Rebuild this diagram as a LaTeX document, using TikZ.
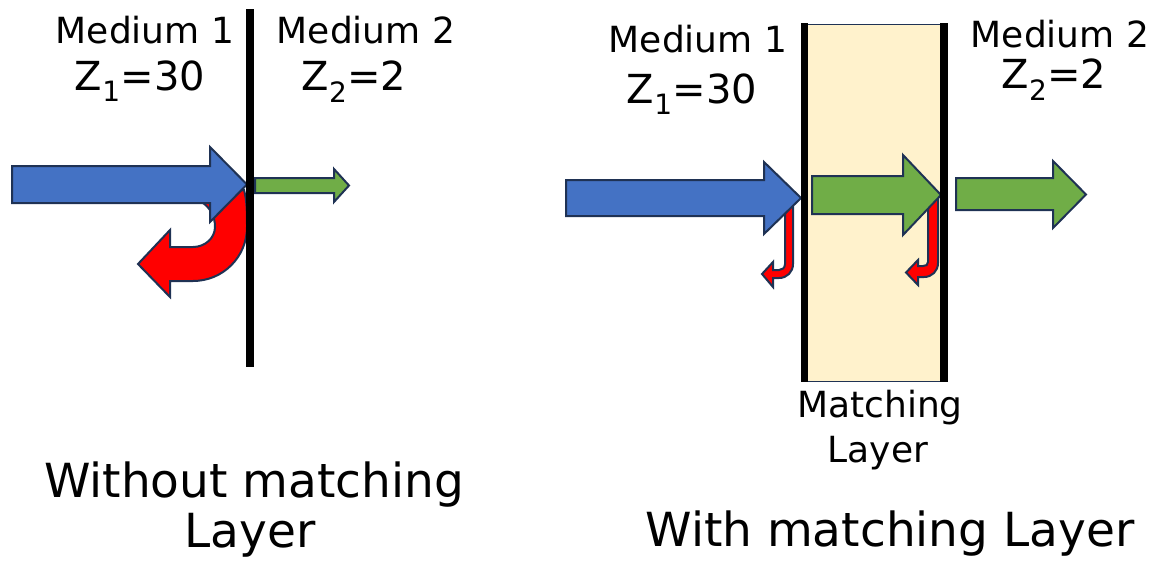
\documentclass[tikz,border=0pt]{standalone}
\usepackage{fontspec}
\setmainfont{DejaVu Sans}
\definecolor{navy}{HTML}{1F3254}
\definecolor{accblue}{HTML}{4472C4}
\definecolor{accgreen}{HTML}{70AD47}
\definecolor{accred}{HTML}{FF0000}
\definecolor{layerfill}{HTML}{FFF2CC}
\begin{document}
\begin{tikzpicture}[x=1pt,y=-1pt,
  outl/.style={draw=navy, line width=2pt, line join=miter},
  bluea/.style={outl, fill=accblue},
  greena/.style={outl, fill=accgreen},
  reda/.style={outl, fill=accred},
  bar/.style={fill=black},
  lbl/.style={font=\fontsize{36}{43}\selectfont, inner sep=0pt, anchor=base},
  zlbl/.style={font=\fontsize{40}{48}\selectfont, inner sep=0pt, anchor=base},
  biglbl/.style={font=\fontsize{47}{52}\selectfont, inner sep=0pt, anchor=base}]
\useasboundingbox (0,0) rectangle (1153,560);

% ---------- left: without matching layer ----------
\draw[reda] (203,196) -- (244,190) .. controls (247,200) and (247,215) .. (247,227)
  .. controls (247,257) and (223,281) .. (193,281) -- (170,281) -- (170,297)
  -- (138,264) -- (170,230) -- (170,247) -- (193,247)
  .. controls (205,247) and (215,238) .. (215,227)
  .. controls (215,216) and (210,208) .. (203,203) -- cycle;
\draw[bluea] (12,166) -- (210,166) -- (210,147) -- (247,184.5) -- (210,222) -- (210,203) -- (12,203) -- cycle;
\draw[greena] (255,178) -- (334,178) -- (334,169) -- (349,185.5) -- (334,202) -- (334,193) -- (255,193) -- cycle;
\fill[bar] (246,9) rectangle (254,367);

\node[lbl] (m1L) at (145,43) {Medium 1};
\node[zlbl] (z1L) at (140,90) {Z\textsubscript{1}=30};
\node[lbl] (m2L) at (366,43) {Medium 2};
\node[zlbl] (z2L) at (354,90) {Z\textsubscript{2}=2};
\node[biglbl] (capL1) at (254,497) {Without matching};
\node[biglbl] (capL2) at (250,547) {Layer};

% ---------- right: with matching layer ----------
\draw[draw=navy, line width=1pt, fill=layerfill] (804,24) rectangle (944,381);
\draw[reda] (785,205) -- (785,264) .. controls (785,268) and (782,270) .. (779,270)
  -- (773,270) -- (773,262) -- (762,274) -- (773,287) -- (773,278) -- (779,278)
  .. controls (787,278) and (793,272) .. (793,264) -- (793,205) -- cycle;
\draw[reda] (928,196) -- (928,262) .. controls (928,265) and (926,266) .. (923,266)
  -- (918,266) -- (918,260) -- (906,272.5) -- (918,285) -- (918,277) -- (924,277)
  .. controls (932,277) and (938,271) .. (938,263) -- (938,196) -- cycle;
\draw[bluea] (566,180) -- (764,180) -- (764,162) -- (801,198) -- (764,234) -- (764,216) -- (566,216) -- cycle;
\draw[greena] (812,176) -- (903,176) -- (903,155) -- (941,195) -- (903,235) -- (903,214) -- (812,214) -- cycle;
\draw[greena] (956,178) -- (1053,178) -- (1053,161) -- (1086,194.5) -- (1053,228) -- (1053,210) -- (956,210) -- cycle;
\fill[bar] (800.5,23) rectangle (808,381.5);
\fill[bar] (940,23) rectangle (948,381.5);

\node[lbl] (m1R) at (698,52) {Medium 1};
\node[zlbl] (z1R) at (692,103) {Z\textsubscript{1}=30};
\node[lbl] (m2R) at (1060,47) {Medium 2};
\node[zlbl] (z2R) at (1054,88) {Z\textsubscript{2}=2};
\node[lbl] (mlay1) at (880,417) {Matching};
\node[lbl] (mlay2) at (878,462) {Layer};
\node[biglbl] (capR) at (890,546) {With matching Layer};
\end{tikzpicture}
\end{document}
